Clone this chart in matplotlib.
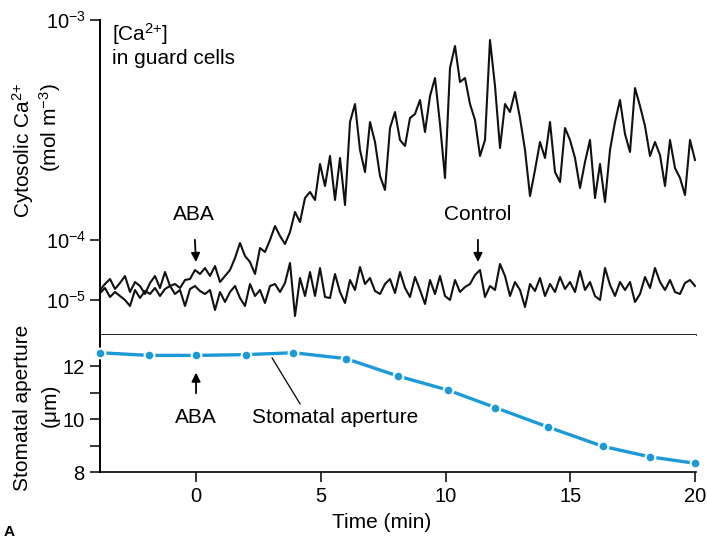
import numpy as np
import matplotlib.pyplot as plt

plt.rcParams['font.family'] = ['Liberation Sans', 'DejaVu Sans']
plt.rcParams['mathtext.default'] = 'regular'

# Ca2+ recordings, sampled evenly from -3.85 to 20 min.
# values are trace height on the drawn (non-uniform) axis: 0 = 1e-5, 6 = 1e-4, 28 = 1e-3
time = np.linspace(-3.85, 20.0, 120)
aba_trace = [
    1.0, 1.6, 2.1, 1.1, 1.7, 2.4, 0.8, 1.8, 1.4, 0.6,
    1.7, 2.4, 1.2, 2.8, 1.4, 1.6, 1.2, 2.0, 2.1, 3.0,
    2.6, 3.2, 2.4, 3.4, 1.8, 2.4, 3.0, 4.2, 5.7, 4.4,
    3.8, 2.6, 5.2, 4.8, 6.0, 7.4, 6.4, 5.6, 6.8, 8.8,
    7.8, 10.2, 10.8, 10.0, 13.6, 11.4, 14.4, 10.0, 14.2, 9.5,
    17.8, 19.6, 15.0, 12.8, 17.8, 15.8, 12.4, 11.0, 17.2, 18.8,
    16.0, 15.4, 18.2, 18.6, 20.0, 16.8, 20.4, 22.2, 17.6, 12.2,
    23.2, 25.4, 21.8, 22.2, 19.6, 18.0, 14.4, 16.0, 26.0, 21.4,
    15.2, 19.6, 18.8, 20.8, 18.2, 15.0, 10.4, 13.0, 15.8, 14.2,
    17.8, 12.8, 11.8, 17.2, 16.0, 14.2, 11.2, 13.8, 16.0, 10.2,
    13.6, 9.8, 15.0, 17.8, 20.0, 16.6, 14.8, 21.2, 19.4, 17.4,
    14.4, 15.8, 14.5, 11.4, 16.0, 13.2, 12.2, 10.5, 16.0, 14.0,
]
control_trace = [
    0.7, 1.2, 0.3, 0.8, 0.4, 0.0, -0.6, 1.0, 0.2, 0.9,
    0.6, 1.2, 0.4, 1.1, 1.4, 0.6, 1.0, -0.6, 1.1, 1.4,
    0.9, 0.6, 1.0, -1.0, 0.8, -0.2, 0.8, 1.4, 0.2, -0.6,
    1.6, 0.4, 1.0, -0.3, 1.4, 1.6, 0.8, 1.7, 3.7, -1.6,
    2.2, 0.4, 2.8, 0.4, 3.2, 0.3, 0.2, 2.6, 0.8, -0.3,
    2.0, 1.0, 3.3, 1.6, 2.2, 0.9, 0.6, 1.6, 2.1, 0.7,
    2.8, 1.2, 0.3, 2.3, 1.0, -0.4, 2.0, 0.6, 2.4, 0.4,
    0.0, 2.0, 0.8, 1.3, 1.6, 2.5, 3.0, 0.3, 1.4, 1.0,
    3.6, 2.4, 0.4, 1.8, 1.0, -0.7, 1.6, 0.9, 2.2, 0.4,
    1.6, 0.8, 2.3, 1.1, 1.8, 0.8, 2.9, 1.0, 1.8, 0.4,
    0.0, 3.2, 1.5, 0.4, 1.8, 1.0, 1.8, -0.2, 0.6, 2.3,
    1.2, 3.2, 1.8, 1.0, 2.0, 0.8, 0.6, 1.7, 2.0, 1.4,
]
ca_tick_pos = [0, 6, 28]
ca_tick_labels = ['$10^{-5}$', '$10^{-4}$', '$10^{-3}$']

# stomatal aperture (um)
ap_time = [-3.85, -1.9, 0.0, 2.0, 3.9, 6.0, 8.1, 10.1, 12.0, 14.1, 16.3, 18.2, 20.0]
aperture = [12.50, 12.40, 12.40, 12.43, 12.50, 12.28, 11.62, 11.09, 10.43, 9.70, 8.97, 8.57, 8.33]

FS = 15
blue = '#1c9ad8'
arrow = dict(arrowstyle='-|>', color='black', lw=1.3, shrinkA=9, shrinkB=0,
             mutation_scale=13)

fig = plt.figure(figsize=(7.07, 5.4), dpi=100)
ax1 = fig.add_axes([100/707, 1-335/540, 596/707, 315/540])
ax2 = fig.add_axes([100/707, 1-472/540, 596/707, 137/540], sharex=ax1)

# top panel
ax1.plot(time, control_trace, color='#111111', lw=1.5)
ax1.plot(time, aba_trace, color='#111111', lw=1.5)
ax1.set_xlim(-3.85, 20.04)
ax1.set_ylim(-3.5, 28)
ax1.set_yticks(ca_tick_pos, ca_tick_labels)
ax1.tick_params(axis='y', length=7, width=1.1, labelsize=14.5, pad=3)
ax1.tick_params(axis='x', bottom=False, labelbottom=False)
for s in ['top', 'right']:
    ax1.spines[s].set_visible(False)
ax1.spines['left'].set_linewidth(1.4)
ax1.spines['bottom'].set_linewidth(1.2)

ax1.text(0.02, 0.995, '[Ca$^{2{+}}$]\nin guard cells', transform=ax1.transAxes,
         ha='left', va='top', fontsize=FS, linespacing=1.1)
ax1.annotate('ABA', xy=(0, 3.8), xytext=(-0.1, 8.5), ha='center', va='center',
             fontsize=FS, arrowprops=arrow)
ax1.annotate('Control', xy=(11.3, 3.8), xytext=(11.3, 8.5), ha='center', va='center',
             fontsize=FS, arrowprops=arrow)

# bottom panel
ax2.plot(ap_time, aperture, color=blue, lw=2.4, marker='o', ms=7,
         mec='white', mew=1.5, clip_on=False, zorder=3)
ax2.set_ylim(8, 13.17)
ax2.set_yticks([8, 10, 12])
ax2.set_yticks([9, 11], minor=True)
ax2.set_xticks([0, 5, 10, 15, 20])
ax2.tick_params(which='both', length=7, width=1.1, labelsize=14.5, pad=4)
for s in ['top', 'right']:
    ax2.spines[s].set_visible(False)
ax2.spines['left'].set_linewidth(1.4)
ax2.spines['bottom'].set_linewidth(1.2)

ax2.annotate('ABA', xy=(0, 11.75), xytext=(0, 10.04), ha='center', va='center',
             fontsize=FS, arrowprops=arrow)
ax2.text(2.25, 10.04, 'Stomatal aperture', ha='left', va='center', fontsize=FS)
ax2.plot([3.05, 4.17], [12.3, 10.57], color='black', lw=0.9)

# axis titles
fig.text(23/707, 1-83/540, 'Cytosolic Ca$^{2{+}}$', rotation=90, ha='center', va='top', fontsize=FS)
fig.text(50/707, 1-83/540, '(mol m$^{-3}$)', rotation=90, ha='center', va='top', fontsize=FS)
fig.text(23/707, 1-408/540, 'Stomatal aperture', rotation=90, ha='center', va='center', fontsize=FS)
fig.text(50/707, 1-405/540, '(μm)', rotation=90, ha='center', va='center', fontsize=FS)
fig.text(382/707, 1-522/540, 'Time (min)', ha='center', va='center', fontsize=FS)
fig.text(4/707, 1/540, 'A', ha='left', va='bottom', fontsize=11, fontweight='bold')

fig.savefig('out.png', dpi=100)
